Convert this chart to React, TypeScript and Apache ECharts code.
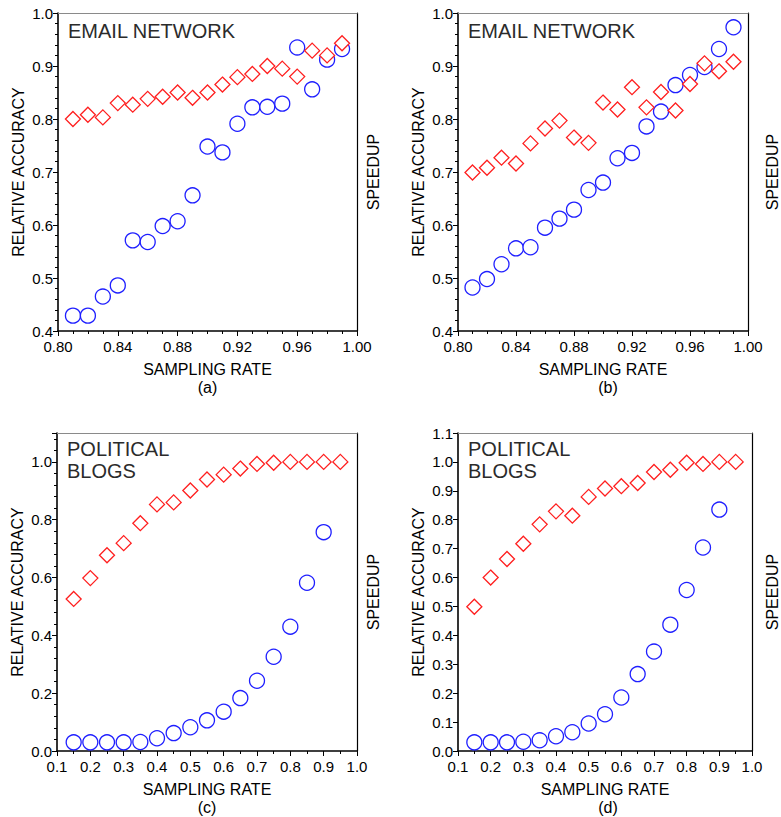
import React, { useEffect, useRef } from "react";
import * as echarts from "echarts";

// Sampling rates (x values)
const emailRates = [0.81, 0.82, 0.83, 0.84, 0.85, 0.86, 0.87, 0.88, 0.89, 0.9, 0.91, 0.92, 0.93, 0.94, 0.95, 0.96, 0.97, 0.98, 0.99];
const blogRates = [0.15, 0.2, 0.25, 0.3, 0.35, 0.4, 0.45, 0.5, 0.55, 0.6, 0.65, 0.7, 0.75, 0.8, 0.85, 0.9, 0.95];

// Panel (a) — email network
const circlesA = [0.429, 0.429, 0.465, 0.486, 0.571, 0.568, 0.598, 0.607, 0.656, 0.748, 0.737, 0.791, 0.822, 0.823, 0.829, 0.935, 0.856, 0.912, 0.932];
const diamondsA = [0.8, 0.808, 0.803, 0.83, 0.827, 0.838, 0.842, 0.85, 0.84, 0.85, 0.865, 0.879, 0.885, 0.9, 0.895, 0.88, 0.929, 0.92, 0.943];

// Panel (b) — email network
const circlesB = [0.482, 0.498, 0.526, 0.556, 0.558, 0.595, 0.612, 0.629, 0.666, 0.68, 0.726, 0.736, 0.786, 0.814, 0.864, 0.883, 0.898, 0.932, 0.973];
const diamondsB = [0.699, 0.708, 0.727, 0.716, 0.754, 0.782, 0.797, 0.765, 0.755, 0.831, 0.818, 0.86, 0.822, 0.851, 0.816, 0.866, 0.905, 0.89, 0.908];

// Panel (c) — political blogs
const circlesC = [0.03, 0.03, 0.03, 0.03, 0.031, 0.044, 0.062, 0.082, 0.106, 0.136, 0.183, 0.243, 0.326, 0.43, 0.582, 0.757];
const diamondsC = [0.526, 0.598, 0.677, 0.719, 0.788, 0.853, 0.86, 0.901, 0.939, 0.956, 0.977, 0.993, 0.997, 1.0, 1.0, 1.0, 1.0];

// Panel (d) — political blogs
const circlesD = [0.03, 0.03, 0.03, 0.032, 0.037, 0.051, 0.065, 0.095, 0.127, 0.185, 0.266, 0.344, 0.437, 0.557, 0.704, 0.835];
const diamondsD = [0.499, 0.6, 0.664, 0.717, 0.784, 0.829, 0.814, 0.879, 0.908, 0.916, 0.927, 0.965, 0.973, 0.997, 0.993, 1.0, 1.0];

const panelTitles = ["EMAIL NETWORK", "EMAIL NETWORK", "POLITICAL\nBLOGS", "POLITICAL\nBLOGS"];
const captions = ["(a)", "(b)", "(c)", "(d)"];

const FONT = "'Liberation Sans', Arial, Helvetica, sans-serif";
const BLUE = "#1f1fff";
const RED = "#ff1f1f";

type PanelCfg = {
  grid: { left: number; top: number; width: number; height: number };
  rates: number[];
  circles: number[];
  diamonds: number[];
  x: { min: number; max: number; interval: number; minor: number; digits: number };
  y: { min: number; max: number; interval: number; minor: number; hideMax: boolean };
  speedGap: number;
};

const panels: PanelCfg[] = [
  {
    grid: { left: 58, top: 13, width: 299, height: 318 },
    rates: emailRates, circles: circlesA, diamonds: diamondsA,
    x: { min: 0.8, max: 1.0, interval: 0.04, minor: 4, digits: 2 },
    y: { min: 0.4, max: 1.0, interval: 0.1, minor: 5, hideMax: false },
    speedGap: 8,
  },
  {
    grid: { left: 458, top: 13, width: 300, height: 318 },
    rates: emailRates, circles: circlesB, diamonds: diamondsB,
    x: { min: 0.8, max: 1.0, interval: 0.04, minor: 4, digits: 2 },
    y: { min: 0.4, max: 1.0, interval: 0.1, minor: 5, hideMax: false },
    speedGap: 16,
  },
  {
    grid: { left: 57, top: 433, width: 300, height: 318 },
    rates: blogRates, circles: circlesC, diamonds: diamondsC,
    x: { min: 0.1, max: 1.0, interval: 0.1, minor: 2, digits: 1 },
    y: { min: 0, max: 1.1, interval: 0.2, minor: 5, hideMax: true },
    speedGap: 8,
  },
  {
    grid: { left: 458, top: 433, width: 300, height: 318 },
    rates: blogRates, circles: circlesD, diamonds: diamondsD,
    x: { min: 0.1, max: 1.0, interval: 0.1, minor: 2, digits: 1 },
    y: { min: 0, max: 1.1, interval: 0.1, minor: 0, hideMax: false },
    speedGap: 12,
  },
];

const labelStyle = { color: "#000", fontSize: 15, fontFamily: FONT };
const nameStyle = { color: "#000", fontSize: 16, fontFamily: FONT };

function buildOption() {
  const grids: any[] = [];
  const xAxes: any[] = [];
  const yAxes: any[] = [];
  const series: any[] = [];
  const graphics: any[] = [];

  panels.forEach((p, i) => {
    grids.push({ ...p.grid, containLabel: false });

    // bottom axis
    xAxes.push({
      type: "value",
      gridIndex: i,
      position: "bottom",
      min: p.x.min,
      max: p.x.max,
      interval: p.x.interval,
      name: "SAMPLING RATE",
      nameLocation: "middle",
      nameGap: 30,
      nameTextStyle: nameStyle,
      axisLine: { show: true, onZero: false, lineStyle: { color: "#000", width: 1.6 } },
      axisTick: { show: true, inside: false, length: 5, lineStyle: { color: "#000", width: 1 } },
      minorTick: { show: p.x.minor > 0, splitNumber: p.x.minor || 5, length: 3, lineStyle: { color: "#000", width: 1 } },
      axisLabel: { ...labelStyle, margin: 8, formatter: (v: number) => v.toFixed(p.x.digits) },
      splitLine: { show: false },
    });
    // top frame edge
    xAxes.push({
      type: "value",
      gridIndex: i,
      position: "top",
      min: p.x.min,
      max: p.x.max,
      axisLine: { show: true, onZero: false, lineStyle: { color: "#8a8a8a", width: 1.2 } },
      axisTick: { show: false },
      axisLabel: { show: false },
      splitLine: { show: false },
    });
    // left axis
    yAxes.push({
      type: "value",
      gridIndex: i,
      position: "left",
      min: p.y.min,
      max: p.y.max,
      interval: p.y.interval,
      name: "RELATIVE ACCURACY",
      nameLocation: "middle",
      nameRotate: 90,
      nameGap: 32,
      nameTextStyle: nameStyle,
      axisLine: { show: true, onZero: false, lineStyle: { color: "#000", width: 1.6 } },
      axisTick: { show: true, inside: false, length: 5, lineStyle: { color: "#000", width: 1 } },
      minorTick: { show: p.y.minor > 0, splitNumber: p.y.minor || 5, length: 3, lineStyle: { color: "#000", width: 1 } },
      axisLabel: { ...labelStyle, margin: 5, showMaxLabel: !p.y.hideMax, formatter: (v: number) => v.toFixed(1) },
      splitLine: { show: false },
    });
    // right frame edge with its title
    yAxes.push({
      type: "value",
      gridIndex: i,
      position: "right",
      min: p.y.min,
      max: p.y.max,
      name: "SPEEDUP",
      nameLocation: "middle",
      nameRotate: 90,
      nameGap: p.speedGap,
      nameTextStyle: nameStyle,
      axisLine: { show: true, onZero: false, lineStyle: { color: "#000", width: 1.2 } },
      axisTick: { show: false },
      axisLabel: { show: false },
      splitLine: { show: false },
    });

    const xIdx = i * 2;
    const yIdx = i * 2;
    series.push({
      type: "scatter",
      xAxisIndex: xIdx,
      yAxisIndex: yIdx,
      symbol: "circle",
      symbolSize: 15,
      itemStyle: { color: "#ffffff", borderColor: BLUE, borderWidth: 1.3, opacity: 1 },
      data: p.circles.map((v, k) => [p.rates[k], v]),
      z: 2,
    });
    series.push({
      type: "scatter",
      xAxisIndex: xIdx,
      yAxisIndex: yIdx,
      symbol: "diamond",
      symbolSize: 15,
      itemStyle: { color: "#ffffff", borderColor: RED, borderWidth: 1.3, opacity: 1 },
      data: p.diamonds.map((v, k) => [p.rates[k], v]),
      z: 3,
    });

    // panel title
    graphics.push({
      type: "text",
      left: p.grid.left + 10,
      top: p.grid.top + (i < 2 ? 7 : 5),
      z: 10,
      style: {
        text: panelTitles[i],
        fill: "#2b2b2b",
        font: `20px ${FONT}`,
        lineHeight: 22,
      },
    });
    // caption under the axis name
    graphics.push({
      type: "text",
      x: p.grid.left + p.grid.width / 2,
      y: p.grid.top + p.grid.height + 56,
      style: {
        text: captions[i],
        fill: "#000",
        font: `16px ${FONT}`,
        align: "center",
        verticalAlign: "middle",
      },
    });
  });

  return {
    animation: false,
    backgroundColor: "#ffffff",
    grid: grids,
    xAxis: xAxes,
    yAxis: yAxes,
    series,
    graphic: graphics,
  };
}

export default function App() {
  const ref = useRef<HTMLDivElement>(null);
  useEffect(() => {
    if (!ref.current) return;
    const chart = echarts.init(ref.current, undefined, { renderer: "svg" });
    chart.setOption(buildOption() as any);
    return () => chart.dispose();
  }, []);
  return (
    <div
      ref={ref}
      style={{ position: "absolute", left: 0, top: 0, width: 781, height: 817, background: "#fff" }}
    />
  );
}
